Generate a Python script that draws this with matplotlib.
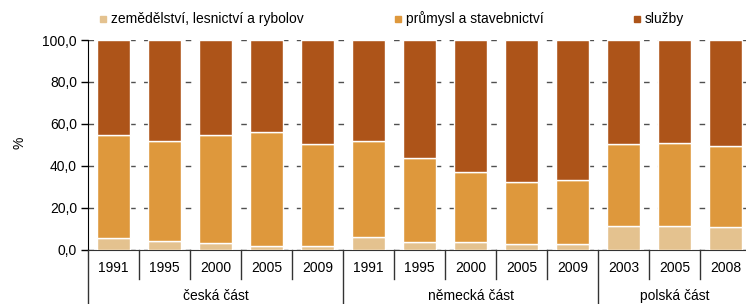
import numpy as np
import matplotlib.pyplot as plt
from matplotlib.patches import Rectangle
from matplotlib.transforms import blended_transform_factory

plt.rcParams['font.family'] = ['Liberation Sans', 'DejaVu Sans']

skupiny = ["česká část", "německá část", "polská část"]
roky = [["1991", "1995", "2000", "2005", "2009"],
        ["1991", "1995", "2000", "2005", "2009"],
        ["2003", "2005", "2008"]]
zemedelstvi = [5.4, 4.3, 3.0, 1.8, 1.8, 5.9, 3.7, 3.7, 2.7, 2.7, 11.5, 11.3, 10.8]
prumysl = [49.3, 47.4, 51.8, 54.2, 48.5, 45.8, 40.2, 33.4, 29.6, 30.4, 38.9, 39.4, 38.6]
sluzby = [100 - a - b for a, b in zip(zemedelstvi, prumysl)]
nazvy = ["zemědělství, lesnictví a rybolov", "průmysl a stavebnictví", "služby"]
barvy = ["#E4C28F", "#DE983C", "#AD5419"]

W, H = 746, 304
fig = plt.figure(figsize=(W / 100, H / 100), dpi=100)
y0, y100 = 249.7, 40.0
ax = fig.add_axes([88 / W, (H - y0) / H, 663 / W, (y0 - y100) / H])

n = len(zemedelstvi)
x = np.arange(n)
spodek = np.zeros(n)
for hodnoty, barva in zip([zemedelstvi, prumysl, sluzby], barvy):
    ax.bar(x, hodnoty, bottom=spodek, width=0.63, color=barva,
           edgecolor="white", linewidth=1.0, zorder=3)
    spodek += np.array(hodnoty)

ax.set_xlim(-0.5, n - 0.5)
ax.set_ylim(0, 100)
ax.set_yticks(np.arange(0, 101, 20))
ax.set_yticklabels([f"{v:.1f}".replace(".", ",") for v in range(0, 101, 20)], fontsize=10)
ax.yaxis.grid(True, color="#505050", linestyle=(0, (4, 6)), linewidth=1.0, zorder=0)
ax.tick_params(axis="y", length=5, width=1, color="black", pad=3)
ax.set_xticks([])
for s in ["top", "right"]:
    ax.spines[s].set_visible(False)
ax.spines["left"].set_color("black")
ax.spines["bottom"].set_color("#333333")
ax.set_ylabel("%", fontsize=10)
ax.yaxis.set_label_coords(-0.093, 0.51)

tr = blended_transform_factory(ax.transData, ax.transAxes)
roky_vse = [r for g in roky for r in g]
for i, r in enumerate(roky_vse):
    ax.text(i, -0.087, r, transform=tr, ha="center", va="center", fontsize=10)
hranice = np.cumsum([0] + [len(g) for g in roky]) - 0.5
for i in range(n + 1):
    xi = i - 0.5
    if xi in hranice:
        ax.plot([xi, xi], [0, -0.3], transform=tr, color="#333333", lw=1, clip_on=False)
    else:
        ax.plot([xi, xi], [0, -0.138], transform=tr, color="#333333", lw=1, clip_on=False)
for j, g in enumerate(skupiny):
    stred = (hranice[j] + hranice[j + 1]) / 2
    ax.text(stred, -0.222, g, transform=tr, ha="center", va="center", fontsize=10)

# legenda
leg_x = [100, 395, 634]
for lx, nazev, barva in zip(leg_x, nazvy, barvy):
    fig.add_artist(Rectangle((lx / W, (H - 22) / H), 6 / W, 6 / H,
                             transform=fig.transFigure, color=barva))
    fig.text((lx + 11) / W, (H - 19) / H, nazev, ha="left", va="center", fontsize=10)

fig.savefig("out.png", dpi=100)
